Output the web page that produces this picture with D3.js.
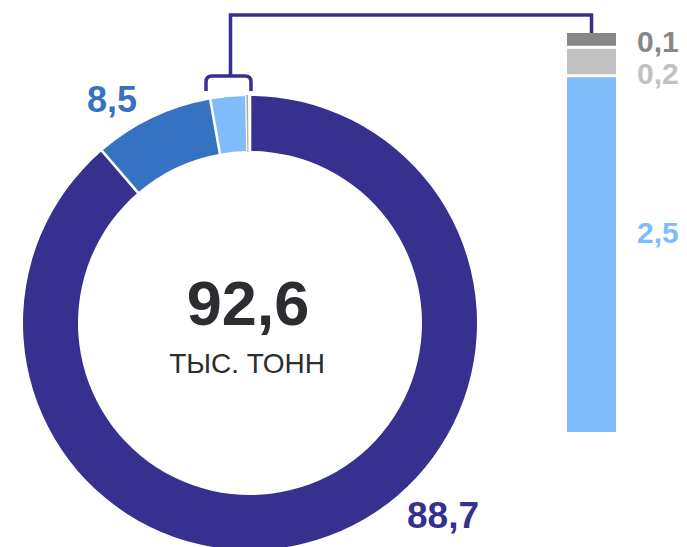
<!DOCTYPE html>
<html>
<head>
<meta charset="utf-8">
<script src="https://cdn.jsdelivr.net/npm/d3@7"></script>
<style>
  html, body { margin: 0; padding: 0; background: #fff; }
  svg { display: block; font-family: "Liberation Sans", Arial, sans-serif; }
</style>
</head>
<body>
<script>
// shares, % of total (clockwise from 12 o'clock)
const categories = ['a', 'b', 'c', 'd', 'e'];
const values = [88.7, 8.5, 2.5, 0.2, 0.1];
const labels = ['88,7', '8,5', '2,5', '0,2', '0,1'];
const colors = ['#37308f', '#3572c1', '#80bbfb', '#c1c1c1', '#878787'];
const total = '92,6';
const unit = 'ТЫС. ТОНН';

const W = 687, H = 547;
const CX = 250, CY = 323, R_OUT = 227, R_IN = 172;

const svg = d3.select('body').append('svg')
    .attr('width', W)
    .attr('height', H);

const data = categories.map((c, i) => ({ cat: c, value: values[i], label: labels[i], color: colors[i] }));

// donut
const pie = d3.pie().sort(null).value(d => d.value);
const arcs = pie(data);
const arc = d3.arc().innerRadius(R_IN).outerRadius(R_OUT);

const donut = svg.append('g').attr('transform', `translate(${CX},${CY})`);
donut.selectAll('path')
    .data(arcs)
    .join('path')
    .attr('d', arc)
    .attr('fill', d => d.data.color)
    // tiny slices get an outline in their own colour so they stay visible
    .attr('stroke', d => d.data.color)
    .attr('stroke-width', d => d.data.value < 1 ? 2 : 0);

// white separators between slices
donut.selectAll('line.sep')
    .data(arcs)
    .join('line')
    .attr('class', 'sep')
    .attr('x1', d => (R_IN - 2) * Math.sin(d.startAngle))
    .attr('y1', d => -(R_IN - 2) * Math.cos(d.startAngle))
    .attr('x2', d => (R_OUT + 2) * Math.sin(d.startAngle))
    .attr('y2', d => -(R_OUT + 2) * Math.cos(d.startAngle))
    .attr('stroke', '#fff')
    .attr('stroke-width', (d, i) => (d.data.value < 1 || (i > 0 && arcs[i - 1].data.value < 1)) ? 1 : 2.6);

// centre text
svg.append('text')
    .attr('x', 248).attr('y', 325)
    .attr('text-anchor', 'middle')
    .attr('font-size', 63).attr('font-weight', 'bold')
    .attr('fill', '#2c2d30')
    .text(total);
svg.append('text')
    .attr('x', 247).attr('y', 373)
    .attr('text-anchor', 'middle')
    .attr('font-size', 28)
    .attr('fill', '#2c2d30')
    .text(unit);

// labels of the two big slices
svg.append('text')
    .attr('x', 407).attr('y', 528)
    .attr('font-size', 37).attr('font-weight', 'bold')
    .attr('fill', colors[0])
    .text(labels[0]);
svg.append('text')
    .attr('x', 87).attr('y', 112)
    .attr('font-size', 36).attr('font-weight', 'bold')
    .attr('fill', colors[1])
    .text(labels[1]);

// bracket over the three small slices
const small = arcs.slice(2);
const a0 = small[0].startAngle, a1 = small[small.length - 1].endAngle;
const RB = 240;
const bx0 = CX + RB * Math.sin(a0) - 2, bx1 = CX + RB * Math.sin(a1) + 1;
const bTop = 76, bEnd = 91, r = 6;
const bMid = (bx0 + bx1) / 2 + 2;
const lineColor = '#37308f';

svg.append('path')
    .attr('d', `M${bx0},${bEnd} L${bx0},${bTop + r} Q${bx0},${bTop} ${bx0 + r},${bTop} L${bx1 - r},${bTop} Q${bx1},${bTop} ${bx1},${bTop + r} L${bx1},${bEnd}`)
    .attr('fill', 'none')
    .attr('stroke', lineColor)
    .attr('stroke-width', 3.5);

// stacked bar of the small slices
const bar = data.slice(2);
const barX = 567, barW = 49;
const y = d3.scaleLinear()
    .domain([0, d3.sum(bar, d => d.value)])
    .range([432, 33]);

let cum = 0;
const stacked = bar.map((d, i) => {
    const s = { ...d, y0: cum, y1: cum + d.value, first: i === 0, last: i === bar.length - 1 };
    cum += d.value;
    return s;
});
const gap = 1.5;

svg.append('path')
    .attr('d', `M${bMid},${bTop} L${bMid},15 L${barX + barW / 2},15 L${barX + barW / 2},${y(cum)}`)
    .attr('fill', 'none')
    .attr('stroke', lineColor)
    .attr('stroke-width', 3.5);

svg.selectAll('rect.seg')
    .data(stacked)
    .join('rect')
    .attr('class', 'seg')
    .attr('x', barX)
    .attr('width', barW)
    .attr('y', d => y(d.y1) + (d.last ? 0 : gap))
    .attr('height', d => y(d.y0) - y(d.y1) - (d.last ? 0 : gap) - (d.first ? 0 : gap))
    .attr('fill', d => d.color);

// bar labels
const barLabelY = { '2,5': 243, '0,2': 84, '0,1': 52 };
svg.selectAll('text.bl')
    .data(stacked)
    .join('text')
    .attr('class', 'bl')
    .attr('x', 637)
    .attr('y', d => barLabelY[d.label])
    .attr('font-size', 30).attr('font-weight', 'bold')
    .attr('fill', d => d.color)
    .text(d => d.label);
</script>
</body>
</html>
